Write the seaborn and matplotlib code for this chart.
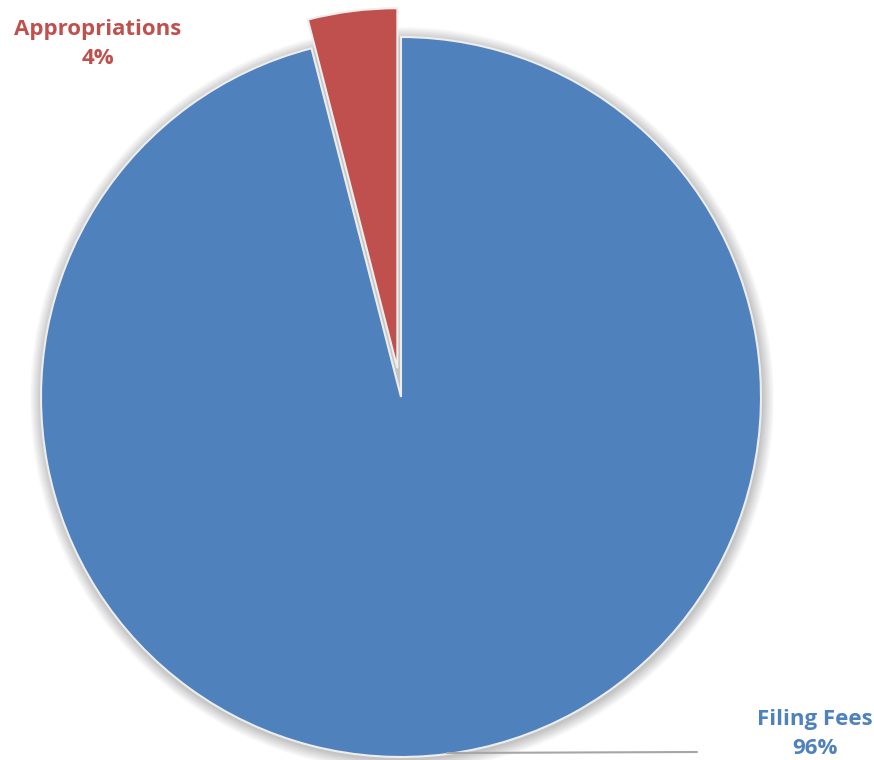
import matplotlib
matplotlib.use("Agg")
import matplotlib.pyplot as plt
import seaborn as sns
from matplotlib.patches import Circle

sns.set_theme(style="white")
plt.rcParams['font.family'] = ['Open Sans', 'DejaVu Sans']

categories = ["Appropriations", "Filing Fees"]
values = [4, 96]
pct_labels = ["4%", "96%"]
colors = ["#C0504D", "#4F81BD"]

W, H = 874, 760
fig = plt.figure(figsize=(W / 100, H / 100), dpi=100)
ax = fig.add_axes([0, 0, 1, 1])

cx, cy, r = 401, H - 397, 360

# soft shadow glow
for i in range(12, 0, -1):
    ax.add_patch(Circle((cx + 1, cy - 2), r + i * 1.0, color='black',
                        alpha=0.018, lw=0, zorder=0))

ax.pie(values, colors=colors, startangle=90, counterclock=True,
       explode=[29, 0], center=(cx, cy), radius=r,
       wedgeprops=dict(edgecolor='#EDEDED', linewidth=1.5), frame=True)
ax.set_xlim(0, W)
ax.set_ylim(0, H)
ax.set_aspect('equal')
ax.axis('off')

# leader line for Filing Fees
ax.plot([447, 697], [H - 753, H - 752], color='#A6A6A6', lw=1.5, zorder=5)

ax.text(98, H - 44, f"{categories[0]}\n{pct_labels[0]}", color=colors[0],
        fontsize=16, fontweight='bold', ha='center', va='center',
        linespacing=1.45)
ax.text(815, H - 734, f"{categories[1]}\n{pct_labels[1]}", color=colors[1],
        fontsize=16, fontweight='bold', ha='center', va='center',
        linespacing=1.45)

fig.savefig("out.png", dpi=100)
